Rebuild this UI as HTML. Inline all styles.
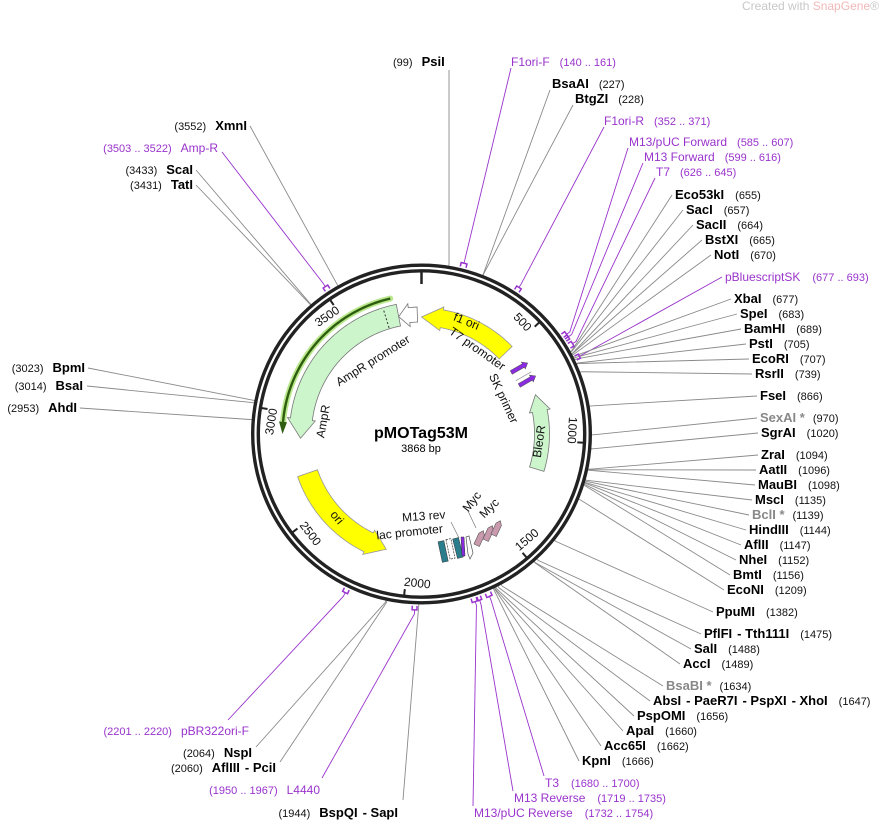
<!DOCTYPE html>
<html><head><meta charset="utf-8"><style>
html,body{margin:0;padding:0;background:#fff}
svg{display:block;font-family:"Liberation Sans","DejaVu Sans",sans-serif}
.n{font-size:11px;fill:#111}
.b{font-size:13px;font-weight:bold;fill:#000}
.p{font-size:12px;fill:#9933cc}
.pn{font-size:11px;fill:#9933cc}
.g{font-size:13px;font-weight:bold;fill:#888}
.f{font-size:12px;fill:#111}
</style></head><body>
<svg id="s" width="894" height="821" viewBox="0 0 894 821" xmlns="http://www.w3.org/2000/svg">
<g id="lines"></g>
<g id="feat"></g>
<text x="742" y="10" style="font-size:12px;fill:#c8c8c8">Created with <tspan fill="#f2b8b8">SnapGene</tspan>®</text>
<text x="393" y="66"><tspan class="n">(99)</tspan><tspan class="b" dx="9">PsiI</tspan></text>
<text x="511" y="66"><tspan class="p">F1ori-F</tspan><tspan class="pn" dx="10">(140 .. 161)</tspan></text>
<text x="552" y="88"><tspan class="b">BsaAI</tspan><tspan class="n" dx="10">(227)</tspan></text>
<text x="575" y="103"><tspan class="b">BtgZI</tspan><tspan class="n" dx="10">(228)</tspan></text>
<text x="604" y="125"><tspan class="p">F1ori-R</tspan><tspan class="pn" dx="10">(352 .. 371)</tspan></text>
<text x="629" y="146"><tspan class="p">M13/pUC Forward</tspan><tspan class="pn" dx="10">(585 .. 607)</tspan></text>
<text x="644" y="161"><tspan class="p">M13 Forward</tspan><tspan class="pn" dx="10">(599 .. 616)</tspan></text>
<text x="656" y="176"><tspan class="p">T7</tspan><tspan class="pn" dx="10">(626 .. 645)</tspan></text>
<text x="675" y="199"><tspan class="b">Eco53kI</tspan><tspan class="n" dx="11">(655)</tspan></text>
<text x="686" y="214"><tspan class="b">SacI</tspan><tspan class="n" dx="11">(657)</tspan></text>
<text x="696" y="229"><tspan class="b">SacII</tspan><tspan class="n" dx="11">(664)</tspan></text>
<text x="705" y="244"><tspan class="b">BstXI</tspan><tspan class="n" dx="11">(665)</tspan></text>
<text x="714" y="259"><tspan class="b">NotI</tspan><tspan class="n" dx="11">(670)</tspan></text>
<text x="725" y="281"><tspan class="p">pBluescriptSK</tspan><tspan class="pn" dx="12">(677 .. 693)</tspan></text>
<text x="734" y="303"><tspan class="b">XbaI</tspan><tspan class="n" dx="11">(677)</tspan></text>
<text x="740" y="318"><tspan class="b">SpeI</tspan><tspan class="n" dx="11">(683)</tspan></text>
<text x="744" y="333"><tspan class="b">BamHI</tspan><tspan class="n" dx="11">(689)</tspan></text>
<text x="749" y="348"><tspan class="b">PstI</tspan><tspan class="n" dx="11">(705)</tspan></text>
<text x="752" y="363"><tspan class="b">EcoRI</tspan><tspan class="n" dx="11">(707)</tspan></text>
<text x="755" y="378"><tspan class="b">RsrII</tspan><tspan class="n" dx="11">(739)</tspan></text>
<text x="760" y="400"><tspan class="b">FseI</tspan><tspan class="n" dx="11">(866)</tspan></text>
<text x="760" y="422"><tspan class="g">SexAI *</tspan><tspan class="n" dx="8">(970)</tspan></text>
<text x="761" y="437"><tspan class="b">SgrAI</tspan><tspan class="n" dx="11">(1020)</tspan></text>
<text x="761" y="459"><tspan class="b">ZraI</tspan><tspan class="n" dx="11">(1094)</tspan></text>
<text x="759" y="474"><tspan class="b">AatII</tspan><tspan class="n" dx="11">(1096)</tspan></text>
<text x="758" y="489"><tspan class="b">MauBI</tspan><tspan class="n" dx="11">(1098)</tspan></text>
<text x="755" y="504"><tspan class="b">MscI</tspan><tspan class="n" dx="11">(1135)</tspan></text>
<text x="752" y="519"><tspan class="g">BclI *</tspan><tspan class="n" dx="8">(1139)</tspan></text>
<text x="749" y="534"><tspan class="b">HindIII</tspan><tspan class="n" dx="11">(1144)</tspan></text>
<text x="744" y="549"><tspan class="b">AflII</tspan><tspan class="n" dx="11">(1147)</tspan></text>
<text x="739" y="564"><tspan class="b">NheI</tspan><tspan class="n" dx="11">(1152)</tspan></text>
<text x="733" y="579"><tspan class="b">BmtI</tspan><tspan class="n" dx="11">(1156)</tspan></text>
<text x="727" y="594"><tspan class="b">EcoNI</tspan><tspan class="n" dx="11">(1209)</tspan></text>
<text x="716" y="616"><tspan class="b">PpuMI</tspan><tspan class="n" dx="11">(1382)</tspan></text>
<text x="704" y="638"><tspan class="b">PflFI</tspan><tspan class="b" dx="5">- Tth111I</tspan><tspan class="n" dx="11">(1475)</tspan></text>
<text x="694" y="653"><tspan class="b">SalI</tspan><tspan class="n" dx="11">(1488)</tspan></text>
<text x="683" y="668"><tspan class="b">AccI</tspan><tspan class="n" dx="11">(1489)</tspan></text>
<text x="666" y="690"><tspan class="g">BsaBI *</tspan><tspan class="n" dx="8">(1634)</tspan></text>
<text x="653" y="705"><tspan class="b">AbsI</tspan><tspan class="b" dx="5">- PaeR7I</tspan><tspan class="b" dx="5">- PspXI</tspan><tspan class="b" dx="5">- XhoI</tspan><tspan class="n" dx="11">(1647)</tspan></text>
<text x="637" y="720"><tspan class="b">PspOMI</tspan><tspan class="n" dx="11">(1656)</tspan></text>
<text x="626" y="735"><tspan class="b">ApaI</tspan><tspan class="n" dx="11">(1660)</tspan></text>
<text x="604" y="750"><tspan class="b">Acc65I</tspan><tspan class="n" dx="11">(1662)</tspan></text>
<text x="582" y="765"><tspan class="b">KpnI</tspan><tspan class="n" dx="11">(1666)</tspan></text>
<text x="545" y="787"><tspan class="p">T3</tspan><tspan class="pn" dx="12">(1680 .. 1700)</tspan></text>
<text x="514" y="802"><tspan class="p">M13 Reverse</tspan><tspan class="pn" dx="12">(1719 .. 1735)</tspan></text>
<text x="474" y="817"><tspan class="p">M13/pUC Reverse</tspan><tspan class="pn" dx="12">(1732 .. 1754)</tspan></text>
<text x="398" y="817" text-anchor="end"><tspan class="n">(1944)</tspan><tspan class="b" dx="9">BspQI</tspan><tspan class="b" dx="5">- SapI</tspan></text>
<text x="320" y="794" text-anchor="end"><tspan class="pn">(1950 .. 1967)</tspan><tspan class="p" dx="9">L4440</tspan></text>
<text x="276" y="772" text-anchor="end"><tspan class="n">(2060)</tspan><tspan class="b" dx="9">AflIII</tspan><tspan class="b" dx="5">- PciI</tspan></text>
<text x="252" y="757" text-anchor="end"><tspan class="n">(2064)</tspan><tspan class="b" dx="9">NspI</tspan></text>
<text x="249" y="735" text-anchor="end"><tspan class="pn">(2201 .. 2220)</tspan><tspan class="p" dx="9">pBR322ori-F</tspan></text>
<text x="77" y="412" text-anchor="end"><tspan class="n">(2953)</tspan><tspan class="b" dx="9">AhdI</tspan></text>
<text x="83" y="390" text-anchor="end"><tspan class="n">(3014)</tspan><tspan class="b" dx="9">BsaI</tspan></text>
<text x="85" y="372" text-anchor="end"><tspan class="n">(3023)</tspan><tspan class="b" dx="9">BpmI</tspan></text>
<text x="193" y="189" text-anchor="end"><tspan class="n">(3431)</tspan><tspan class="b" dx="9">TatI</tspan></text>
<text x="193" y="174" text-anchor="end"><tspan class="n">(3433)</tspan><tspan class="b" dx="9">ScaI</tspan></text>
<text x="218" y="152" text-anchor="end"><tspan class="pn">(3503 .. 3522)</tspan><tspan class="p" dx="9">Amp-R</tspan></text>
<text x="247" y="130" text-anchor="end"><tspan class="n">(3552)</tspan><tspan class="b" dx="9">XmnI</tspan></text>
<circle cx="421.5" cy="434" r="166" fill="none" stroke="#222" stroke-width="9"/>
<circle cx="421.5" cy="434" r="166" fill="none" stroke="#fff" stroke-width="2.2"/>
<g id="ticks"></g>
<text id="t500" class="f" text-anchor="middle" dominant-baseline="middle">500</text>
<text id="t1000" class="f" text-anchor="middle" dominant-baseline="middle">1000</text>
<text id="t1500" class="f" text-anchor="middle" dominant-baseline="middle">1500</text>
<text id="t2000" class="f" text-anchor="middle" dominant-baseline="middle">2000</text>
<text id="t2500" class="f" text-anchor="middle" dominant-baseline="middle">2500</text>
<text id="t3000" class="f" text-anchor="middle" dominant-baseline="middle">3000</text>
<text id="t3500" class="f" text-anchor="middle" dominant-baseline="middle">3500</text>
<text x="421" y="438" text-anchor="middle" style="font-size:16px;font-weight:bold">pMOTag53M</text>
<text x="421" y="452" text-anchor="middle" style="font-size:11px">3868 bp</text>
<text class="f" text-anchor="middle" transform="translate(465,325) rotate(22)">f1 ori</text>
<text class="f" text-anchor="middle" transform="translate(475,352) rotate(35)">T7 promoter</text>
<text class="f" text-anchor="middle" transform="translate(500,400) rotate(65)">SK primer</text>
<text class="f" text-anchor="middle" transform="translate(375,364) rotate(-32)">AmpR promoter</text>
<text class="f" text-anchor="middle" transform="translate(327,422) rotate(-80)">AmpR</text>
<text class="f" text-anchor="middle" transform="translate(543,442) rotate(-82)">BleoR</text>
<text class="f" text-anchor="middle" transform="translate(334,520) rotate(50)">ori</text>
<text class="f" text-anchor="middle" transform="translate(424,520) rotate(-4)">M13 rev</text>
<text class="f" text-anchor="middle" transform="translate(410,536) rotate(-6)">lac promoter</text>
<text class="f" text-anchor="middle" transform="translate(475,504) rotate(-52)">Myc</text>
<text class="f" text-anchor="middle" transform="translate(492,511) rotate(-45)">Myc</text>
</svg>
<script>
var cx=421.5,cy=434,N=3868,NS="http://www.w3.org/2000/svg";
function A(bp){return bp/N*360;}
function P(a,r){var t=a*Math.PI/180;return [cx+r*Math.sin(t),cy-r*Math.cos(t)];}
function el(par,tag,at){var e=document.createElementNS(NS,tag);for(var k in at)e.setAttribute(k,at[k]);document.getElementById(par).appendChild(e);return e;}
var C=[[449,70,99],[511,68,150,1],[550,90,227],[573,105,228],[604,127,361,1],[628,148,596,1],[643,163,607,1],[655,178,635,1],
[672,195,655],[683,210,657],[693,225,664],[702,240,665],[711,255,670],[722,277,685,1],[731,299,677],[737,314,683],[741,329,689],[746,344,705],[749,359,707],[752,374,739],
[757,396,866],[757,418,970],[758,433,1020],[758,455,1094],[756,470,1096],[755,485,1098],[752,500,1135],[749,515,1139],[746,530,1144],[741,545,1147],[736,560,1152],[730,575,1156],[724,590,1209],
[713,612,1382],[701,634,1475],[691,649,1488],[680,664,1489],[663,686,1634],[650,701,1647],[634,716,1656],[623,731,1660],[601,746,1662],[579,761,1666],
[544,776,1690,1],[513,791,1727,1],[473,806,1743,1],
[403,800,1944],[322,778,1958,1],[280,762,2060],[256,747,2064],[228,720,2210,1],
[80,408,2953],[87,386,3014],[88,368,3023],[196,185,3431],[196,170,3433],[222,152,3512,1],[250,126,3552]];
C.forEach(function(c){var a=A(c[2]),r=c[3]?180:172,q=P(a,r),q2=P(a,c[3]?176:170);
 var col=c[3]?"#9933cc":"#8a8a8a";
 el("lines","polyline",{points:c[0]+","+c[1]+" "+q.join(",")+" "+q2.join(","),fill:"none",stroke:col,"stroke-width":"0.9"});});
[[140,161],[352,371],[585,607],[599,616],[626,645],[677,693],[1680,1700],[1719,1735],[1732,1754],[1950,1967],[2201,2220],[3503,3522]].forEach(function(p,i){
 var a1=A(p[0]),a2=A(p[1]),r=176,s=P(a1,r-4),e=P(a2,r-4),pts=[s];for(var a=a1;a<=a2;a+=0.5)pts.push(P(a,r));pts.push(P(a2,r));pts.push(e);
 el("lines","polyline",{points:pts.map(function(x){return x.join(",")}).join(" "),fill:"none",stroke:"#9933cc","stroke-width":"1.5"});});
el("ticks","line",{x1:P(0,150)[0],y1:P(0,150)[1],x2:P(0,163)[0],y2:P(0,163)[1],stroke:"#222","stroke-width":"2.5"});
[500,1000,1500,2000,2500,3000,3500].forEach(function(b){var a=A(b),p1=P(a,156),p2=P(a,163);
 el("ticks","line",{x1:p1[0],y1:p1[1],x2:p2[0],y2:p2[1],stroke:"#222","stroke-width":"2"});
 var t=document.getElementById("t"+b),rot=(a>100&&a<260)?a-180:a,pp=P(a-4.5,150);
 t.setAttribute("transform","translate("+pp[0]+","+pp[1]+") rotate("+rot+")");});
function arr(a1,a2,r1,r2,head,fill,stroke,extra){var d=a2>a1?1:-1,ah=a2-d*head,pts=[];
 for(var a=a1;d*(ah-a)>0;a+=d*1)pts.push(P(a,r2));pts.push(P(ah,r2));pts.push(P(ah,r2+extra));pts.push(P(a2,(r1+r2)/2));pts.push(P(ah,r1-extra));pts.push(P(ah,r1));
 for(var a=ah;d*(a-a1)>0;a-=d*1)pts.push(P(a,r1));pts.push(P(a1,r1));
 el("feat","polygon",{points:pts.map(function(x){return x.join(",")}).join(" "),fill:fill,stroke:stroke,"stroke-width":"0.8"});}
var g=[];for(var a=-13;a>=-85;a-=1)g.push(P(a,139));
el("feat","polyline",{points:g.map(function(x){return x.join(",")}).join(" "),fill:"none",stroke:"#b9e88c","stroke-width":"6","stroke-linecap":"round"});
el("feat","polyline",{points:g.map(function(x){return x.join(",")}).join(" "),fill:"none",stroke:"#2f5e10","stroke-width":"2.4"});
var h1=P(-85,135),h2=P(-85,143),h3=P(-90,139);
el("feat","polygon",{points:[h1,h2,h3].map(function(x){return x.join(",")}).join(" "),fill:"#2f5e10"});
arr(46,0,108,126,10,"#ffff00","#999",3);
arr(-11,-92,110,132,9,"#ccf5cc","#777",3);
var d1=P(-17,111),d2=P(-17,131);el("feat","line",{x1:d1[0],y1:d1[1],x2:d2[0],y2:d2[1],stroke:"#333","stroke-dasharray":"2,2","stroke-width":"1"});
arr(-2,-11,112,127,5,"#fff","#777",4);
arr(251,197,110,131,9,"#ffff00","#999",3);
arr(107,71,113,128,8,"#ccf5cc","#777",3);
</script>
<div style="position:absolute;left:0;top:0;width:894px;height:821px;pointer-events:none">
<svg width="894" height="821">
<g transform="translate(519,368) rotate(-30)"><polygon points="-9,-2 5,-2 5,-4 10,0 5,4 5,2 -9,2" fill="#8a2be2" stroke="#555" stroke-width="0.5"/></g>
<g transform="translate(521,372) rotate(-30)"><line x1="-9" y1="5" x2="9" y2="5" stroke="#999" stroke-width="0.8"/></g>
<g transform="translate(527,381) rotate(-30)"><polygon points="-9,-2 5,-2 5,-4 10,0 5,4 5,2 -9,2" fill="#8a2be2" stroke="#555" stroke-width="0.5"/></g>
<rect x="440" y="541" width="6" height="21" fill="#2a7d8c" stroke="#333" stroke-width="0.5" transform="rotate(-12 443 551)"/>
<rect x="448" y="539" width="5" height="20" fill="#fff" stroke="#333" stroke-width="0.7" stroke-dasharray="2,1" transform="rotate(-12 450 549)"/>
<rect x="455" y="538" width="6" height="20" fill="#2a7d8c" stroke="#333" stroke-width="0.5" transform="rotate(-14 458 548)"/>
<polygon points="461,537 464,537 465,556 462,556" fill="#8a2be2" stroke="#333" stroke-width="0.5"/>
<polygon points="466,537 469,536 473,553 470,559 468,554" fill="#fff" stroke="#555" stroke-width="0.7"/>
<g transform="translate(480,538) rotate(-65)"><polygon points="-8,-3 4,-3 8,0 4,3 -8,3" fill="#c99aad" stroke="#555" stroke-width="0.6"/></g>
<g transform="translate(489,533) rotate(-65)"><polygon points="-8,-3 4,-3 8,0 4,3 -8,3" fill="#c99aad" stroke="#555" stroke-width="0.6"/></g>
<g transform="translate(497,528) rotate(-65)"><polygon points="-8,-3 4,-3 8,0 4,3 -8,3" fill="#c99aad" stroke="#555" stroke-width="0.6"/></g>
<line x1="451" y1="522" x2="459" y2="538" stroke="#777" stroke-width="0.7"/>
<line x1="468" y1="511" x2="476" y2="528" stroke="#777" stroke-width="0.7"/>
</svg></div>
</body></html>
